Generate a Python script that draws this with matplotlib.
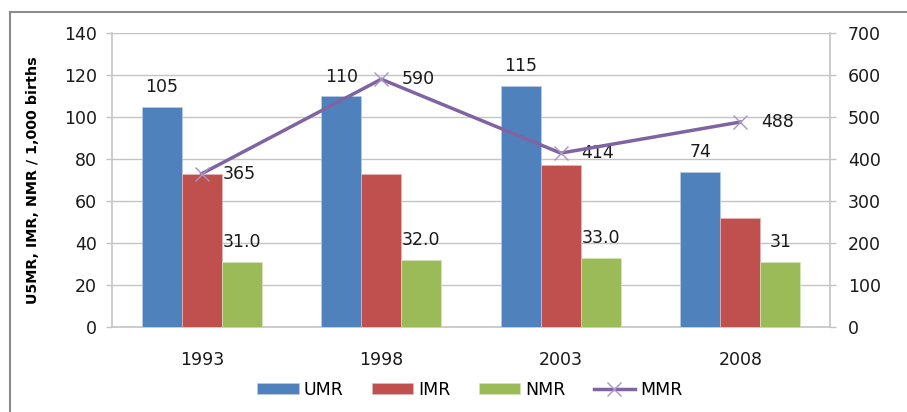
import matplotlib.pyplot as plt
import numpy as np
from matplotlib.lines import Line2D

years = ["1993", "1998", "2003", "2008"]
umr = [105, 110, 115, 74]
imr = [73, 73, 77, 52]
nmr = [31.0, 32.0, 33.0, 31]
nmr_labels = ["31.0", "32.0", "33.0", "31"]
mmr = [365, 590, 414, 488]

BLUE, RED, GREEN, PURPLE = "#4F81BD", "#C0504D", "#9BBB59", "#8064A2"
GRID = "#C4C4C4"
TXT = "#1a1a1a"
FS = 12.5

plt.rcParams["font.family"] = "DejaVu Sans"
W, H = 907, 412
fig = plt.figure(figsize=(W / 100, H / 100), dpi=100)
ax = fig.add_axes([112 / W, 1 - 327 / H, (830 - 112) / W, (327 - 33) / H])
ax2 = ax.twinx()

x = np.arange(len(years))
w = 0.223
b1 = ax.bar(x - w, umr, w, color=BLUE, edgecolor="#B9CDE5", linewidth=0.5, label="UMR", zorder=3)
b2 = ax.bar(x, imr, w, color=RED, edgecolor="#E6B9B8", linewidth=0.5, label="IMR", zorder=3)
b3 = ax.bar(x + w, nmr, w, color=GREEN, edgecolor="#D7E4BD", linewidth=0.5, label="NMR", zorder=3)

for xi, v in zip(x, umr):
    ax.annotate(str(v), (xi - w, v), xytext=(0, 14), textcoords="offset points",
                ha="center", va="center", fontsize=FS, color=TXT)
for xi, v, s in zip(x, nmr, nmr_labels):
    ax.annotate(s, (xi + w, v), xytext=(0, 14), textcoords="offset points",
                ha="center", va="center", fontsize=FS, color=TXT)

ax.set_xlim(-0.5, len(years) - 0.5)
ax.set_ylim(0, 140)
ax.set_yticks(range(0, 141, 20))
ax.yaxis.grid(True, color=GRID, linewidth=1.0, zorder=0)
ax.set_axisbelow(True)
ax.set_xticks(x)
ax.set_xticklabels(years)
ax.tick_params(axis="x", length=0, pad=17, labelsize=FS, labelcolor=TXT)
ax.tick_params(axis="y", length=4, width=1.0, color=GRID, labelsize=FS, pad=7, labelcolor=TXT)
ax.set_ylabel("U5MR, IMR, NMR / 1,000 births", fontsize=10.3, fontweight="bold", labelpad=17)

ax2.set_ylim(0, 700)
ax2.set_yticks(range(0, 701, 100))
ax2.tick_params(axis="y", length=4, width=1.0, color=GRID, labelsize=FS, pad=9, labelcolor=TXT)
line, = ax2.plot(x, mmr, color=PURPLE, linewidth=2.5, marker="x", markersize=10,
                 markeredgecolor="#A895C4", markeredgewidth=1.0, label="MMR", zorder=4)
for xi, v in zip(x, mmr):
    ax2.annotate(str(v), (xi, v), xytext=(15, 0), textcoords="offset points",
                 ha="left", va="center", fontsize=FS, color=TXT)

for a in (ax, ax2):
    a.spines["top"].set_visible(False)
    for side in ("left", "right", "bottom"):
        a.spines[side].set_color(GRID)
        a.spines[side].set_linewidth(1.2)
ax.spines["right"].set_visible(False)
ax2.spines["left"].set_visible(False)
ax2.spines["bottom"].set_visible(False)

handles = [b1, b2, b3, line]
fig.legend(handles, ["UMR", "IMR", "NMR", "MMR"], loc="center",
           bbox_to_anchor=(470 / W, 1 - 390 / H),
           ncol=4, frameon=False, fontsize=FS, handlelength=2.4, handleheight=0.6,
           columnspacing=1.6, handletextpad=0.3)

# outer chart frame (cropped on right/bottom)
fig.add_artist(Line2D([10 / W, 10 / W], [0, 1 - 12 / H], transform=fig.transFigure,
                      color="#8C8C8C", linewidth=1.5))
fig.add_artist(Line2D([10 / W, 1], [1 - 12 / H, 1 - 12 / H], transform=fig.transFigure,
                      color="#8C8C8C", linewidth=1.5))

fig.savefig("out.png", dpi=100)
